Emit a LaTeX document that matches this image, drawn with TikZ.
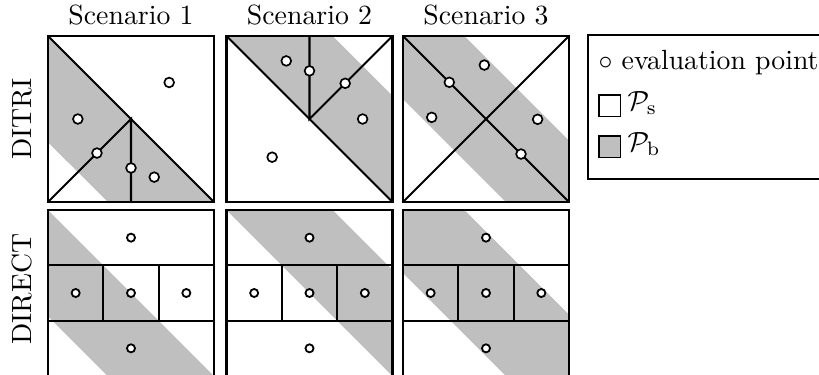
\documentclass[tikz,border=0pt]{standalone}
\begin{document}
\begin{tikzpicture}[x=0.36pt,y=-0.36pt,
  bandfill/.style={fill=black!25},
  cellline/.style={line width=0.75pt},
  evalpt/.style={circle,draw,fill=white,line width=0.6pt,inner sep=0pt,minimum size=3.5pt},
  evalsm/.style={circle,draw,fill=white,line width=0.65pt,inner sep=0pt,minimum size=2.9pt},
  legsq/.style={draw,line width=0.4pt,minimum size=7.6pt,inner sep=0pt}]
\useasboundingbox (0,0) rectangle (819,374);
\clip (0,0) rectangle (819,374);

% titles
\node[anchor=base] (t1) at (131,24) {Scenario 1};
\node[anchor=base] (t2) at (309.5,24) {Scenario 2};
\node[anchor=base] (t3) at (486,24) {Scenario 3};
\node[rotate=90] (rowa) at (22,119) {DITRI};
\node[rotate=90] (rowb) at (22,289) {DIRECT};

% ---------- DITRI scenario 1
\begin{scope}[shift={(48,36)},scale=166]
  \begin{scope}\clip (0,0) rectangle (1,1);
    \fill[bandfill] (-1,-1) -- (2,2) -- (2,2.64) -- (-1,-0.36) -- cycle;
  \end{scope}
  \draw[cellline] (0,0) rectangle (1,1);
  \draw[cellline] (0,0) -- (1,1);
  \draw[cellline] (0,1) -- (0.5,0.5) -- (0.5,1);
  \node[evalpt] (a1) at (0.73,0.28) {};
  \node[evalpt] (a2) at (0.18,0.50) {};
  \node[evalpt] (a3) at (0.295,0.705) {};
  \node[evalpt] (a4) at (0.5,0.795) {};
  \node[evalpt] (a5) at (0.64,0.85) {};
\end{scope}

% ---------- DITRI scenario 2
\begin{scope}[shift={(226.5,36)},scale=166]
  \begin{scope}\clip (0,0) rectangle (1,1);
    \fill[bandfill] (-1,-1.64) -- (2,1.36) -- (2,2) -- (-1,-1) -- cycle;
  \end{scope}
  \draw[cellline] (0,0) rectangle (1,1);
  \draw[cellline] (0,0) -- (1,1);
  \draw[cellline] (0.5,0) -- (0.5,0.5) -- (1,0);
  \node[evalpt] (b1) at (0.36,0.15) {};
  \node[evalpt] (b2) at (0.5,0.21) {};
  \node[evalpt] (b3) at (0.715,0.285) {};
  \node[evalpt] (b4) at (0.82,0.50) {};
  \node[evalpt] (b5) at (0.275,0.73) {};
\end{scope}

% ---------- DITRI scenario 3
\begin{scope}[shift={(403,36)},scale=166]
  \begin{scope}\clip (0,0) rectangle (1,1);
    \fill[bandfill] (-1,-1.37) -- (2,1.63) -- (2,2.38) -- (-1,-0.62) -- cycle;
  \end{scope}
  \draw[cellline] (0,0) rectangle (1,1);
  \draw[cellline] (0,0) -- (1,1);
  \draw[cellline] (0,1) -- (1,0);
  \node[evalpt] (c1) at (0.49,0.175) {};
  \node[evalpt] (c2) at (0.279,0.279) {};
  \node[evalpt] (c3) at (0.173,0.49) {};
  \node[evalpt] (c4) at (0.811,0.502) {};
  \node[evalpt] (c5) at (0.711,0.711) {};
\end{scope}

% ---------- DIRECT scenario 1
\begin{scope}[shift={(48,210)},scale=166]
  \begin{scope}\clip (0,0) rectangle (1,1);
    \fill[bandfill] (-1,-1) -- (2,2) -- (2,2.64) -- (-1,-0.36) -- cycle;
  \end{scope}
  \draw[cellline] (0,0) rectangle (1,1);
  \draw[cellline] (0,1/3) -- (1,1/3) (0,2/3) -- (1,2/3);
  \draw[cellline] (1/3,1/3) -- (1/3,2/3) (2/3,1/3) -- (2/3,2/3);
  \node[evalsm] (d1) at (0.5,1/6) {};
  \node[evalsm] (d2) at (1/6,0.5) {};
  \node[evalsm] (d3) at (0.5,0.5) {};
  \node[evalsm] (d4) at (5/6,0.5) {};
  \node[evalsm] (d5) at (0.5,5/6) {};
\end{scope}

% ---------- DIRECT scenario 2
\begin{scope}[shift={(226.5,210)},scale=166]
  \begin{scope}\clip (0,0) rectangle (1,1);
    \fill[bandfill] (-1,-1.64) -- (2,1.36) -- (2,2) -- (-1,-1) -- cycle;
  \end{scope}
  \draw[cellline] (0,0) rectangle (1,1);
  \draw[cellline] (0,1/3) -- (1,1/3) (0,2/3) -- (1,2/3);
  \draw[cellline] (1/3,1/3) -- (1/3,2/3) (2/3,1/3) -- (2/3,2/3);
  \node[evalsm] (e1) at (0.5,1/6) {};
  \node[evalsm] (e2) at (1/6,0.5) {};
  \node[evalsm] (e3) at (0.5,0.5) {};
  \node[evalsm] (e4) at (5/6,0.5) {};
  \node[evalsm] (e5) at (0.5,5/6) {};
\end{scope}

% ---------- DIRECT scenario 3
\begin{scope}[shift={(403,210)},scale=166]
  \begin{scope}\clip (0,0) rectangle (1,1);
    \fill[bandfill] (-1,-1.37) -- (2,1.63) -- (2,2.38) -- (-1,-0.62) -- cycle;
  \end{scope}
  \draw[cellline] (0,0) rectangle (1,1);
  \draw[cellline] (0,1/3) -- (1,1/3) (0,2/3) -- (1,2/3);
  \draw[cellline] (1/3,1/3) -- (1/3,2/3) (2/3,1/3) -- (2/3,2/3);
  \node[evalsm] (f1) at (0.5,1/6) {};
  \node[evalsm] (f2) at (1/6,0.5) {};
  \node[evalsm] (f3) at (0.5,0.5) {};
  \node[evalsm] (f4) at (5/6,0.5) {};
  \node[evalsm] (f5) at (0.5,5/6) {};
\end{scope}

% ---------- legend
\draw[line width=0.6pt] (588,35) rectangle (840,179);
\node[anchor=base west,inner sep=0pt] (l1) at (598,69) {$\circ$ evaluation point};
\node[legsq,fill=white] (s1) at (609.5,105.5) {};
\node[legsq,fill=black!25] (s2) at (609.5,146.5) {};
\node[anchor=base west,inner sep=0pt] (l2) at (627,110) {$\mathcal{P}_\mathrm{s}$};
\node[anchor=base west,inner sep=0pt] (l3) at (627,151) {$\mathcal{P}_\mathrm{b}$};
\end{tikzpicture}
\end{document}
